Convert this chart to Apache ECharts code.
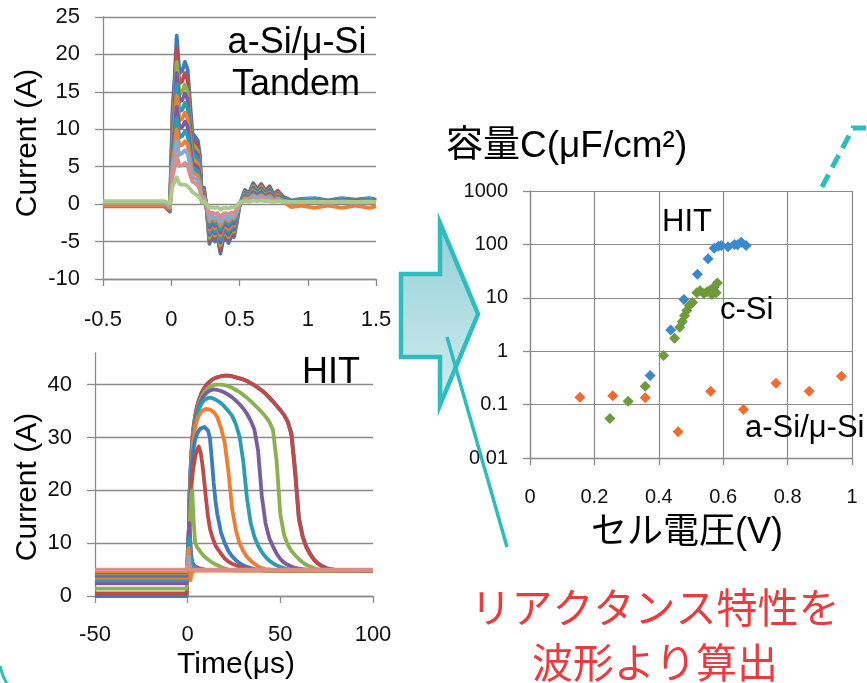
<!DOCTYPE html>
<html><head><meta charset="utf-8">
<script src="https://cdn.jsdelivr.net/npm/echarts@6/dist/echarts.min.js"></script>
<style>html,body{margin:0;padding:0;background:#fff}#c{width:867px;height:683px}</style>
</head><body><div id="c"></div>
<script>
// ---------- Tandem (a-Si/μ-Si) transient current, time in μs ----------
const tandemTime = [-0.5,-0.25,-0.05,-0.01,0.01,0.025,0.04,0.06,0.08,0.1,0.12,0.14,0.155,0.175,0.195,0.21,0.225,0.24,0.26,0.28,0.3,0.32,0.34,0.36,0.38,0.4,0.42,0.44,0.46,0.48,0.5,0.54,0.57,0.6,0.63,0.66,0.69,0.72,0.75,0.78,0.82,0.88,0.95,1.05,1.15,1.25,1.35,1.45,1.5];
const tandem1 = [-0.2,-0.2,-0.2,-1.0,13,17,22.5,17.5,17.8,19,18,13,9.5,9,8.5,6.5,0.5,2.2,-0.8,-5.3,-4.2,-5,-4.4,-6.6,-4.8,-4.6,-5.2,-4.3,-4.4,-2.5,-0.2,1.9,1.5,2.8,2.0,2.7,1.8,2.4,1.3,1.8,1.0,0.5,0.7,0.8,0.5,0.8,0.6,0.8,0.6];
const tandem2 = [-0.3,-0.3,-0.3,-0.9,12,15.6,20.8,16.1,16.4,17.5,16.6,12,8.8,8.3,7.8,6,0.4,2.0,-0.7,-4.9,-3.9,-4.6,-4.0,-6.2,-4.4,-4.2,-4.8,-4.0,-4.1,-2.3,-0.2,1.8,1.4,2.6,1.8,2.5,1.7,2.2,1.2,1.7,0.9,0.4,0.6,0.7,0.4,0.7,0.5,0.7,0.5];
const tandem3 = [0.1,0.1,0.1,-0.8,11,14.3,19,14.7,15,16,15.1,10.9,8,7.6,7.1,5.5,0.4,1.8,-0.7,-4.5,-3.5,-4.2,-3.7,-5.5,-4.0,-3.9,-4.4,-3.6,-3.7,-2.1,-0.2,1.6,1.3,2.4,1.7,2.3,1.5,2.0,1.1,1.5,0.8,0.4,0.6,0.7,0.4,0.7,0.5,0.7,0.5];
const tandem4 = [0.0,0.0,0.0,-0.8,10,13.2,17.5,13.7,13.9,14.8,14,10.1,7.4,7,6.6,5.1,0.4,1.7,-0.6,-4.1,-3.3,-3.9,-3.4,-5.1,-3.7,-3.6,-4.1,-3.4,-3.4,-2.0,-0.2,1.5,1.2,2.2,1.6,2.1,1.4,1.9,1.0,1.4,0.8,0.4,0.5,0.6,0.4,0.6,0.5,0.6,0.5];
const tandem5 = [0.1,0.1,0.1,-0.7,9.2,12.1,16,12.4,12.6,13.5,12.8,9.2,6.7,6.4,6.0,4.6,0.4,1.6,-0.6,-3.8,-3.0,-3.6,-3.1,-4.7,-3.4,-3.3,-3.7,-3.1,-3.1,-1.8,-0.1,1.4,1.1,2.0,1.4,1.9,1.3,1.7,0.9,1.3,0.7,0.4,0.5,0.6,0.4,0.6,0.4,0.6,0.4];
const tandem6 = [-0.2,-0.2,-0.2,-0.7,8.3,10.9,14.5,11.2,11.4,12.2,11.5,8.3,6.1,5.8,5.4,4.2,0.3,1.4,-0.5,-3.4,-2.7,-3.2,-2.8,-4.2,-3.1,-2.9,-3.3,-2.8,-2.8,-1.6,-0.1,1.2,1.0,1.8,1.3,1.7,1.2,1.5,0.8,1.2,0.3,-0.4,-0.2,-0.5,-0.2,-0.5,-0.2,-0.5,-0.3];
const tandem7 = [0.0,0.0,0.0,-0.6,7.5,9.9,13,10.2,10.3,11,10.4,7.5,5.5,5.2,4.9,3.8,0.3,1.3,-0.5,-3.1,-2.4,-2.9,-2.6,-3.8,-2.8,-2.7,-3.0,-2.5,-2.6,-1.5,-0.1,1.1,0.9,1.6,1.2,1.6,1.0,1.4,0.8,1.0,0.6,0.3,0.4,0.5,0.3,0.5,0.4,0.5,0.4];
const tandem8 = [0.1,0.1,0.1,-0.5,6.6,8.7,11.5,8.9,9.1,9.7,9.2,6.6,4.8,4.6,4.3,3.3,0.3,1.1,-0.4,-2.7,-2.1,-2.6,-2.2,-3.4,-2.4,-2.3,-2.7,-2.2,-2.2,-1.3,-0.1,1.0,0.8,1.4,1.0,1.4,0.9,1.2,0.7,0.9,0.5,0.3,0.4,0.4,0.3,0.4,0.3,0.4,0.3];
const tandem9 = [0.0,0.0,0.0,-0.5,5.7,7.5,10,7.8,7.9,8.4,8,5.8,4.2,4.0,3.8,2.9,0.2,1.0,-0.4,-2.3,-1.8,-2.2,-1.9,-2.9,-2.1,-2.0,-2.3,-1.9,-1.9,-1.1,-0.1,0.8,0.7,1.2,0.9,1.2,0.8,1.1,0.6,0.8,0.4,0.2,0.3,0.4,0.2,0.4,0.3,0.4,0.3];
const tandem10 = [0.2,0.2,0.2,-0.4,4.9,6.4,8.5,6.6,6.8,7.2,6.8,4.9,3.6,3.4,3.2,2.5,0.2,0.8,-0.3,-2.0,-1.6,-1.9,-1.7,-2.5,-1.8,-1.7,-2.0,-1.6,-1.7,-1.0,0.0,0.7,0.6,1.1,0.8,1.0,0.7,0.9,0.5,0.7,0.4,0.2,0.3,0.3,0.2,0.3,0.2,0.3,0.2];
const tandem11 = [0.3,0.3,0.3,-0.2,3.8,4.9,6.5,5.1,5.2,5.5,5.2,3.8,3.0,2.8,2.5,1.9,0.3,0.7,0.0,-1.4,-1.1,-1.3,-1.2,-1.8,-1.3,-1.2,-1.4,-1.1,-1.2,-0.6,0.1,0.6,0.5,0.9,0.6,0.8,0.6,0.7,0.5,0.6,0.4,0.3,0.3,0.3,0.3,0.3,0.3,0.3,0.3];
const tandem12 = [0.4,0.4,0.4,0.1,2.4,3.0,3.6,2.7,2.6,2.6,2.4,2.0,1.6,1.4,1.1,0.8,0.3,0.4,0.0,-0.5,-0.4,-0.5,-0.4,-0.7,-0.5,-0.5,-0.6,-0.4,-0.4,-0.2,0.2,0.4,0.3,0.5,0.4,0.5,0.4,0.4,0.3,0.4,0.3,0.3,0.3,0.3,0.3,0.3,0.3,0.3,0.3];

// ---------- HIT transient current, time in μs ----------
const hitTime = [-50,-0.5,0,0.5,1,1.5,2,2.5,3,4,5,6,7,8,9,10,11,12,13,14,15,16,18,20,22,24,26,28,30,32,34,36,38,40,42,44,46,48,50,52,54,56,58,60,62,64,66,68,70,72,75,80,100];
const hit1 = [0.0,0.0,0.3,10,19,23.5,27,29.5,31.5,34,35.8,37,38,38.8,39.4,39.9,40.3,40.6,40.9,41.1,41.3,41.4,41.6,41.7,41.7,41.6,41.4,41.2,41.0,40.7,40.3,39.9,39.4,38.9,38.3,37.6,36.8,36.0,35.2,34.3,33.0,30.8,24.0,15.0,11.5,9.4,8.1,7.0,6.3,5.8,5.3,4.9,4.8];
const hit2 = [0.5,0.5,0.7,10,19,23.5,27,29.5,31.5,34,35.8,37,38,38.8,39.4,39.9,40.3,40.6,40.9,41.1,41.3,41.4,41.6,41.7,41.7,41.6,41.4,41.2,41.0,40.7,40.3,39.9,39.4,38.9,38.3,37.6,36.8,36.0,35.2,34.3,33.0,30.5,23.0,14.5,11.2,9.2,7.9,6.9,6.2,5.7,5.2,4.9,4.8];
const hit3 = [1.4,1.4,1.6,9.8,18.5,23,26.5,29,31,33.5,35.2,36.4,37.3,38,38.6,39,39.4,39.6,39.8,39.9,40.0,40.0,40.0,39.9,39.7,39.4,39.0,38.6,38.1,37.5,36.9,36.2,35.5,34.8,34.0,33.0,31.5,25.5,15.5,11.6,9.7,8.5,7.7,7.0,6.4,5.9,5.6,5.3,5.1,5.0,4.9,4.8,4.8];
const hit4 = [2.4,2.4,2.6,9.5,18,22.5,26,28.5,30.5,33,34.7,35.9,36.8,37.5,38,38.4,38.7,38.9,39.0,39.1,39.1,39.0,38.8,38.5,38.1,37.6,37.0,36.3,35.5,34.5,33.2,31.5,27.5,19,13.8,11,9.4,8.0,7.0,6.3,5.9,5.6,5.3,5.2,5.1,5.0,4.9,4.9,4.8,4.8,4.8,4.8,4.7];
const hit5 = [3.0,3.0,3.2,9.3,17.5,22,25.5,28,30,32.5,34.2,35.3,36.1,36.7,37.1,37.3,37.5,37.5,37.5,37.4,37.2,37.0,36.5,35.8,35.0,34.1,32.5,30.2,25.5,18.5,13.8,11.2,9.5,8.3,7.4,6.7,6.2,5.8,5.5,5.3,5.1,5.0,4.9,4.9,4.8,4.8,4.8,4.8,4.8,4.8,4.8,4.8,4.7];
const hit6 = [3.5,3.5,3.6,9,17,21.5,25,27.3,29.3,31.7,33.2,34.1,34.7,35.1,35.3,35.4,35.4,35.3,35.1,34.8,34.4,33.8,31.8,29,23.5,16.5,12.5,10.0,8.5,7.4,6.7,6.1,5.6,5.3,5.1,5.0,4.9,4.9,4.8,4.8,4.8,4.8,4.8,4.8,4.8,4.8,4.8,4.8,4.8,4.8,4.8,4.8,4.7];
const hit7 = [3.8,3.8,3.9,8.5,16,20.5,23.5,25.8,27.5,29.5,30.6,31.3,31.7,31.9,32.0,31.9,31.3,29.9,26,21.5,18,15.5,12,10,8.5,7.5,6.8,6.2,5.8,5.5,5.3,5.1,5.0,4.9,4.9,4.8,4.8,4.8,4.8,4.8,4.8,4.8,4.8,4.8,4.8,4.8,4.8,4.8,4.8,4.8,4.8,4.8,4.7];
const hit8 = [4.1,4.1,4.2,8,14.5,17.5,20.5,22.5,24,26.2,27.6,28.3,27.2,24.8,21.5,18,15,12.8,11.5,10.5,9.6,9.0,8.0,7.1,6.5,6.1,5.8,5.6,5.4,5.2,5.1,5.0,4.9,4.9,4.8,4.8,4.8,4.8,4.8,4.8,4.8,4.8,4.8,4.8,4.8,4.8,4.8,4.8,4.8,4.8,4.8,4.8,4.7];
const hit9 = [4.3,4.3,4.4,8,12.5,16.5,19.5,20,15.5,10.2,9.3,8.8,8.3,7.9,7.5,7.2,6.9,6.7,6.4,6.2,6.0,5.8,5.5,5.2,5.0,4.9,4.8,4.8,4.8,4.8,4.8,4.8,4.8,4.8,4.8,4.8,4.8,4.8,4.8,4.8,4.8,4.8,4.8,4.8,4.8,4.8,4.8,4.8,4.8,4.8,4.8,4.8,4.7];
const hit10 = [4.5,4.5,4.6,12,13.8,10,7.5,6.5,6.0,5.6,5.4,5.3,5.2,5.1,5.0,4.9,4.9,4.9,4.9,4.9,4.9,4.9,4.9,4.9,4.9,4.9,4.9,4.9,4.9,4.9,4.9,4.9,4.9,4.9,4.9,4.9,4.9,4.9,4.9,4.9,4.9,4.9,4.9,4.9,4.9,4.9,4.9,4.9,4.9,4.9,4.9,4.9,4.7];
const hit11 = [4.6,4.6,4.7,9.5,11,8.5,6.5,5.8,5.5,5.2,5.0,4.9,4.9,4.9,4.9,4.9,4.9,4.9,4.9,4.9,4.9,4.9,4.9,4.9,4.9,4.9,4.9,4.9,4.9,4.9,4.9,4.9,4.9,4.9,4.9,4.9,4.9,4.9,4.9,4.9,4.9,4.9,4.9,4.9,4.9,4.9,4.9,4.9,4.9,4.9,4.9,4.9,4.8];
const hit12 = [4.7,4.7,4.8,9,6,3.0,4.0,4.6,4.8,4.8,4.8,4.8,4.8,4.8,4.8,4.8,4.8,4.8,4.8,4.8,4.8,4.8,4.8,4.8,4.8,4.8,4.8,4.8,4.8,4.8,4.8,4.8,4.8,4.8,4.8,4.8,4.8,4.8,4.8,4.8,4.8,4.8,4.8,4.8,4.8,4.8,4.8,4.8,4.8,4.8,4.8,4.8,4.8];
const hit13 = [4.9,4.9,4.9,7.5,6,5,4.9,4.9,4.9,4.9,4.9,4.9,4.9,4.9,4.9,4.9,4.9,4.9,4.9,4.9,4.9,4.9,4.9,4.9,4.9,4.9,4.9,4.9,4.9,4.9,4.9,4.9,4.9,4.9,4.9,4.9,4.9,4.9,4.9,4.9,4.9,4.9,4.9,4.9,4.9,4.9,4.9,4.9,4.9,4.9,4.9,4.9,4.9];
const hit14 = [5.0,5.0,5.1,6.2,5.6,5.1,5.0,5.0,5.0,5.0,5.0,5.0,5.0,5.0,5.0,5.0,5.0,5.0,5.0,5.0,5.0,5.0,5.0,5.0,5.0,5.0,5.0,5.0,5.0,5.0,5.0,5.0,5.0,5.0,5.0,5.0,5.0,5.0,5.0,5.0,5.0,5.0,5.0,5.0,5.0,5.0,5.0,5.0,5.0,5.0,5.0,5.0,5.0];
const hitYTicks = [0,10,20,30,40];

// ---------- Capacitance vs cell voltage ----------
const hitVoltage = [0.373,0.437,0.478,0.52,0.553,0.572,0.585,0.594,0.615,0.635,0.645,0.656,0.671];
const hitCap     = [0.35,2.5,9.3,27.5,54,85,92,95,90,100,98,110,95];
const csiVoltage = [0.248,0.305,0.358,0.415,0.449,0.465,0.473,0.48,0.487,0.495,0.505,0.518,0.528,0.54,0.55,0.56,0.565,0.572,0.578,0.582];
const csiCap     = [0.055,0.115,0.22,0.83,1.75,2.8,3.6,4.6,5.8,7.2,8.2,12.5,13.5,12,13,14,11.5,16,12.5,19];
const asiVoltage = [0.155,0.257,0.358,0.46,0.561,0.663,0.764,0.867,0.967];
const asiCap     = [0.138,0.147,0.135,0.031,0.178,0.081,0.25,0.178,0.34];
const capTickValues = [0.01,0.1,1,10,100,1000];
const capTickLabels = ['0.01','0.1','1','10','100','1000'];

// ---------- styling ----------
const FONT = '"Liberation Sans", Arial, sans-serif';
const JFONT = '"Liberation Sans", "Noto Sans CJK JP", sans-serif';
const GRID = '#8a8a8a';
const C = {blue:'#3A7DC1', red:'#BE4B48', green:'#8AB04F', purple:'#7B5C9E', teal:'#2A9CB3', orange:'#EE7E33', lblue:'#85A9D3', pink:'#D98E8C', lgreen:'#A9CA8C'};
const TEAL = '#2DBDBE';

const chart = echarts.init(document.getElementById('c'), null, {renderer:'canvas'});

const axisLine = {show:true, onZero:false, lineStyle:{color:GRID, width:1.3}};
const tick = (len) => ({show:true, inside:false, length:len, lineStyle:{color:GRID, width:1.3}});
const label = (size, margin) => ({fontSize:size, color:'#111', margin:margin, fontFamily:FONT});

const series = [];
const tandemData = [tandem1,tandem2,tandem3,tandem4,tandem5,tandem6,tandem7,tandem8,tandem9,tandem10,tandem11,tandem12];
const tandemColors = [C.blue,C.red,C.green,C.purple,C.teal,C.orange,C.purple,C.teal,C.orange,C.lblue,C.pink,C.lgreen];
tandemData.forEach((arr,k)=>{
  series.push({type:'line', xAxisIndex:0, yAxisIndex:0, data: tandemTime.map((t,i)=>[t,arr[i]]),
    symbol:'none', showSymbol:false, silent:true, lineStyle:{width:3.8, color:tandemColors[k], join:'round'}, itemStyle:{color:tandemColors[k]}});
});
const hitData = [hit1,hit2,hit3,hit4,hit5,hit6,hit7,hit8,hit9,hit10,hit11,hit12,hit13,hit14];
const hitColors = [C.blue,C.red,C.green,C.purple,C.teal,C.orange,C.blue,C.red,C.green,C.purple,C.teal,C.orange,C.lblue,C.pink];
hitData.forEach((arr,k)=>{
  series.push({type:'line', xAxisIndex:1, yAxisIndex:1, data: hitTime.map((t,i)=>[t,arr[i]]),
    symbol:'none', showSymbol:false, silent:true, lineStyle:{width:3.8, color:hitColors[k], join:'round'}, itemStyle:{color:hitColors[k]}});
});
const scat = (xs, ys, color) => ({type:'scatter', xAxisIndex:2, yAxisIndex:2, symbol:'diamond', symbolSize:11,
  data: xs.map((x,i)=>[x, ys[i]]), itemStyle:{color:color, opacity:1}, silent:true});
series.push(scat(hitVoltage, hitCap, '#3A89CC'));
series.push(scat(csiVoltage, csiCap, '#6E9B3A'));
series.push(scat(asiVoltage, asiCap, '#F26B2C'));

const txt = (text, x, y, size, opts={}) => Object.assign({
  type:'text', x:x, y:y, z:100,
  style:{text:text, x:0, y:0, fill: opts.fill || '#000', font: size+'px '+(opts.family||FONT),
    align: opts.align||'center', verticalAlign:'middle', textAlign: opts.align||'center', textVerticalAlign:'middle'}
}, opts.rotation!==undefined ? {rotation:opts.rotation} : {});

const option = {
  animation:false,
  backgroundColor:'#fff',
  grid:[
    {left:103, top:17, width:273, height:262},
    {left:95, top:353, width:278, height:243},
    {left:530, top:191, width:322, height:267}
  ],
  xAxis:[
    {gridIndex:0, type:'value', min:-0.5, max:1.5, interval:0.5, axisLine:axisLine, axisTick:tick(7), splitLine:{show:false}, axisLabel:label(22,30)},
    {gridIndex:1, type:'value', min:-50, max:100, interval:50, axisLine:axisLine, axisTick:tick(7), splitLine:{show:false}, axisLabel:label(22,28)},
    {gridIndex:2, type:'value', min:0, max:1, interval:0.2, axisLine:axisLine, axisTick:tick(7),
      splitLine:{show:true, lineStyle:{color:GRID, width:1.2}}, axisLabel:label(20,29)}
  ],
  yAxis:[
    {gridIndex:0, type:'value', min:-10, max:25, interval:5, axisLine:axisLine, axisTick:tick(8),
      splitLine:{show:true, lineStyle:{color:GRID, width:1.3}}, axisLabel:label(22,23)},
    {gridIndex:1, type:'value', min:0, max:46, interval:10, axisLine:axisLine, axisTick:Object.assign(tick(8),{customValues:hitYTicks}),
      splitLine:{show:true, lineStyle:{color:GRID, width:1.3}},
      axisLabel:Object.assign(label(22,23),{customValues:hitYTicks})},
    {gridIndex:2, type:'log', logBase:10, min:0.01, max:1000, axisLine:axisLine, axisTick:tick(7),
      splitLine:{show:true, lineStyle:{color:GRID, width:1.2}},
      axisLabel:Object.assign(label(20,22),{formatter:(v)=>{const i=capTickValues.findIndex(t=>Math.abs(Math.log10(t)-Math.log10(v))<1e-6); return i>=0?capTickLabels[i]:'';}})}
  ],
  series:series,
  graphic:{elements:[
    {type:'polygon', z:90, shape:{points:[[401,274],[440,274],[440,223],[478,314],[440,405],[440,357],[401,357]]},
      style:{fill:new echarts.graphic.LinearGradient(0,0,0,1,[{offset:0,color:'#93D0D7'},{offset:1,color:'#D2ECEF'}]), stroke:TEAL, lineWidth:4.5, lineJoin:'miter'}},
    {type:'line', z:101, shape:{x1:447,y1:337,x2:507,y2:547}, style:{stroke:TEAL, lineWidth:3.5}},
    {type:'polyline', z:101, shape:{points:[[822,187],[853,128],[870,128]]}, style:{stroke:TEAL, lineWidth:5, lineDash:[14,8], fill:null}},
    {type:'polyline', z:101, shape:{points:[[0,666],[3,676],[7,684]]}, style:{stroke:TEAL, lineWidth:3, fill:null}},
    txt('Current (A)', 28, 143, 30, {rotation:Math.PI/2}),
    txt('Current (A)', 28, 487, 30, {rotation:Math.PI/2}),
    txt('Time(μs)', 236, 665, 30),
    txt('a-Si/μ-Si', 297, 43, 36),
    txt('Tandem', 296, 85, 36),
    txt('HIT', 331, 373, 36),
    txt('容量C(μF/cm²)', 446, 147, 37, {align:'left', family:JFONT}),
    txt('HIT', 687, 222, 31),
    txt('c-Si', 720, 310, 31, {align:'left'}),
    txt('a-Si/μ-Si', 745, 428, 31, {align:'left'}),
    txt('セル電圧(V)', 687, 533, 36, {family:JFONT}),
    txt('リアクタンス特性を', 655, 607, 41, {family:'"Noto Sans CJK JP", sans-serif', fill:'#EA3B3F'}),
    txt('波形より算出', 655, 662, 41, {family:'"Noto Sans CJK JP", sans-serif', fill:'#EA3B3F'})
  ]}
};
chart.setOption(option);
</script>
</body></html>
